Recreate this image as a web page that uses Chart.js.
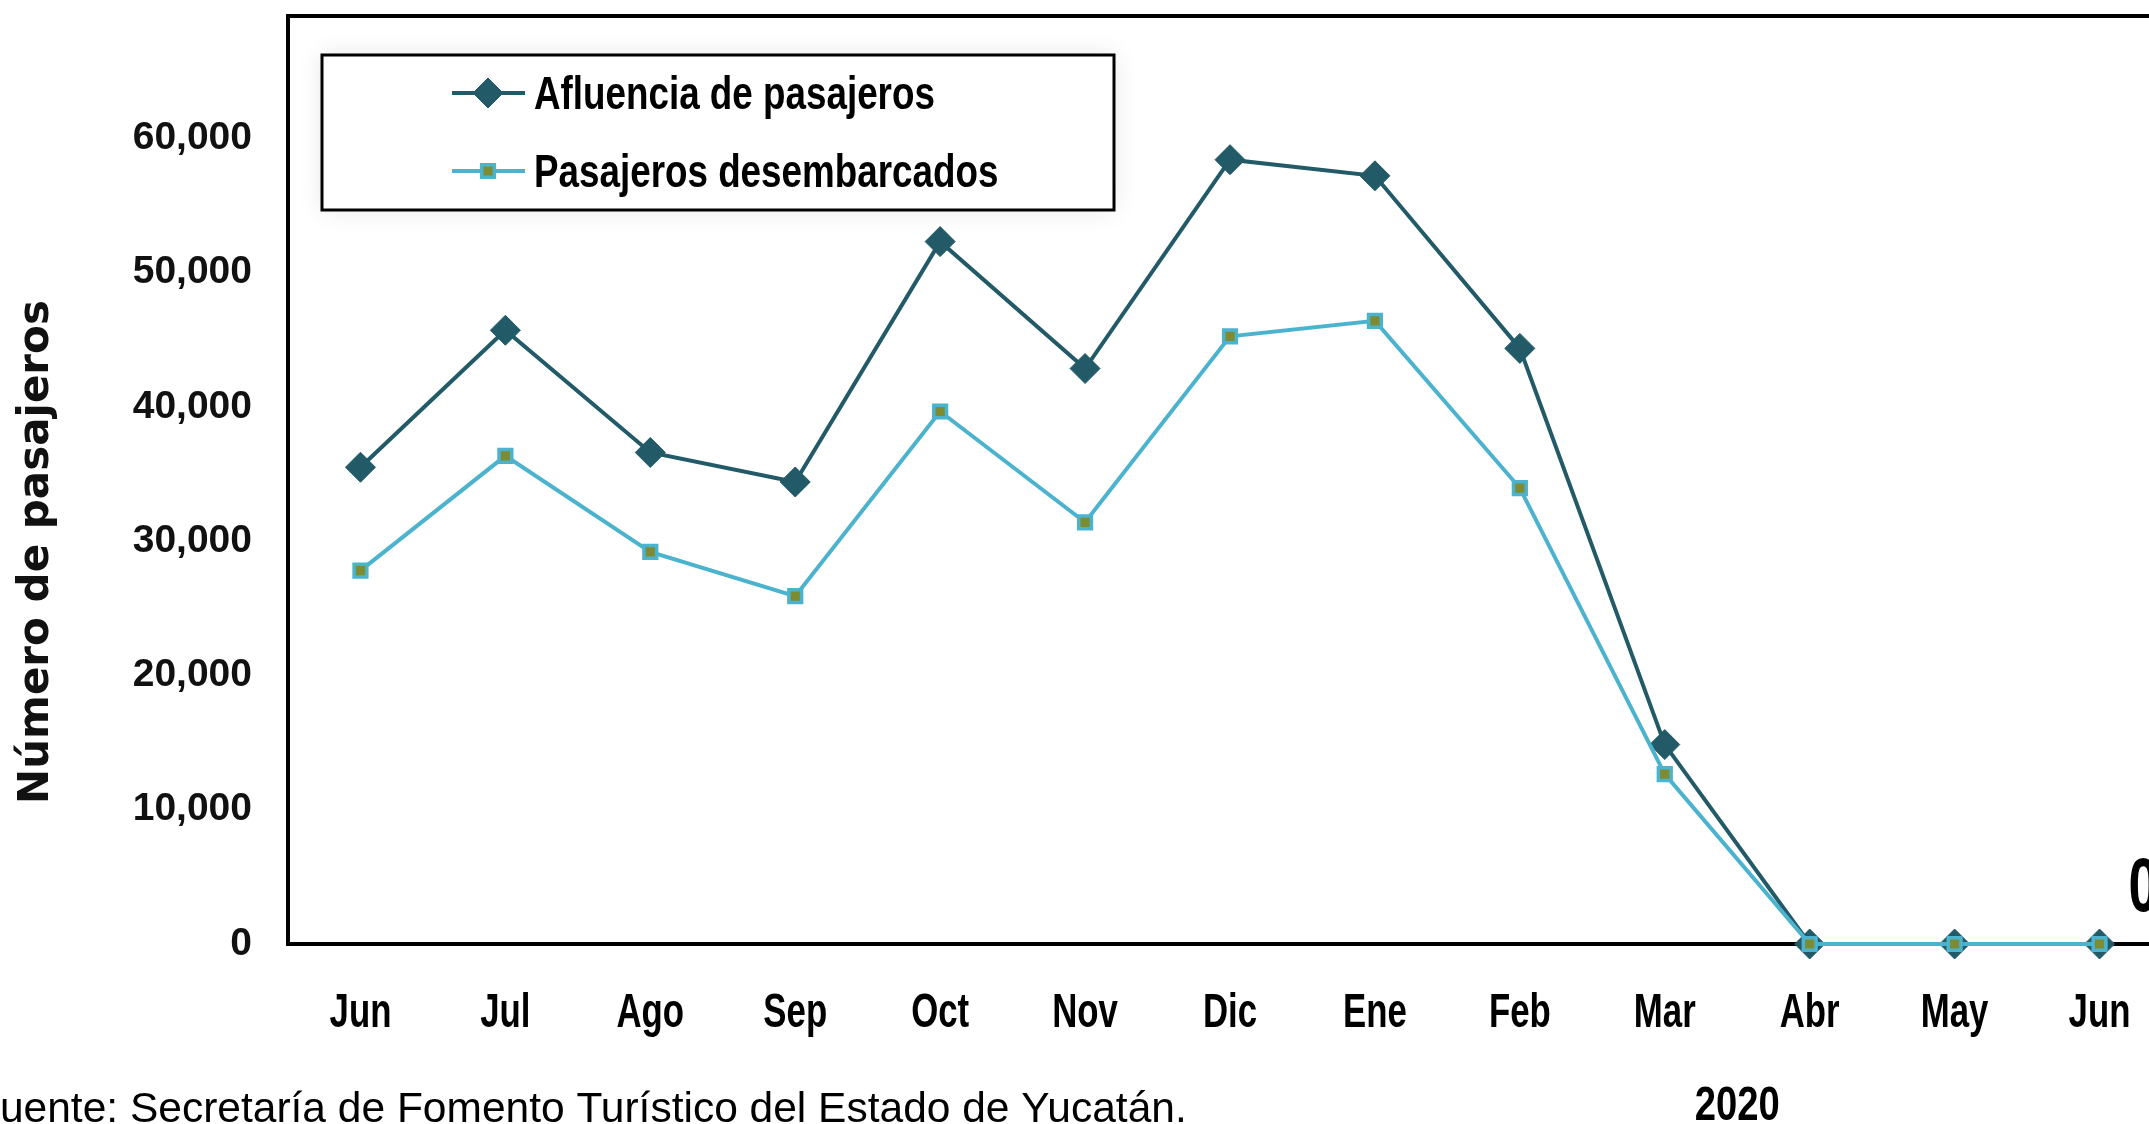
<!DOCTYPE html>
<html lang="es">
<head>
<meta charset="utf-8">
<title>Afluencia de pasajeros</title>
<script src="https://cdn.jsdelivr.net/npm/chart.js@4.4.1/dist/chart.umd.min.js"></script>
<style>
  html, body { margin: 0; padding: 0; background: #fff; overflow: hidden; }
  #wrap { width: 2149px; height: 1124px; overflow: hidden; position: relative; }
  canvas { display: block; }
</style>
</head>
<body>
<div id="wrap"><canvas id="chart" width="2200" height="1124"></canvas></div>
<script>
// months from Jun 2019 to Jun 2020
const months = ["Jun", "Jul", "Ago", "Sep", "Oct", "Nov", "Dic", "Ene", "Feb", "Mar", "Abr", "May", "Jun"];
const afluencia = [35500, 45700, 36600, 34400, 52300, 42850, 58400, 57200, 44350, 14850, 0, 0, 0];
const desembarcados = [27800, 36350, 29200, 25900, 39650, 31400, 45250, 46400, 33950, 12650, 0, 0, 0];
const yTicks = [0, 10000, 20000, 30000, 40000, 50000, 60000];
const yearLabel = "2020";
const yearFrom = 7; // Ene
const yearTo = 12; // Jun
const axisTitle = "Número de pasajeros";
const sourceText = "Fuente: Secretaría de Fomento Turístico del Estado de Yucatán.";
const lastValueLabel = "0";

const darkColor = "#225a68";
const lightColor = "#4cb3ce";
const oliveColor = "#7d8b33";
const boldFont = "'Liberation Sans', Arial, sans-serif";

// condensed text: the source font is a narrow face, so squeeze the installed one
function narrowText(ctx, text, x, y, size, squeeze, align) {
  ctx.save();
  ctx.translate(x, y);
  ctx.scale(squeeze, 1);
  ctx.font = "bold " + size + "px " + boldFont;
  ctx.textAlign = align || "center";
  ctx.textBaseline = "alphabetic";
  ctx.fillStyle = "#000";
  ctx.fillText(text, 0, 0);
  ctx.restore();
}

/**
 * Draws the frame, the boxed legend and the loose texts around the plot.
 */
const decorations = {
  id: "decorations",
  beforeDatasetsDraw(chart) {
    const { ctx, chartArea: a } = chart;
    ctx.save();
    ctx.strokeStyle = "#000";
    ctx.lineWidth = 4;
    ctx.strokeRect(a.left, a.top, a.right - a.left, a.bottom - a.top);
    ctx.restore();
  },
  afterDraw(chart) {
    const { ctx, chartArea: a, scales } = chart;
    const x = scales.x;
    ctx.save();

    // month labels under the axis
    x.ticks.forEach((t, i) => {
      narrowText(ctx, x.getLabelForValue(t.value), x.getPixelForTick(i), 1027, 49, 0.71);
    });

    // legend box
    const box = { left: 322, top: 55, width: 792, height: 155 };
    ctx.shadowColor = "rgba(0,0,0,0.10)";
    ctx.shadowBlur = 24;
    ctx.fillStyle = "#fff";
    ctx.fillRect(box.left, box.top, box.width, box.height);
    ctx.shadowBlur = 0;
    ctx.shadowColor = "transparent";
    ctx.strokeStyle = "#000";
    ctx.lineWidth = 3;
    ctx.strokeRect(box.left, box.top, box.width, box.height);

    const rows = [93, 171];
    chart.data.datasets.forEach((ds, i) => {
      const y = rows[i];
      ctx.strokeStyle = ds.borderColor;
      ctx.lineWidth = ds.borderWidth;
      ctx.beginPath();
      ctx.moveTo(452, y);
      ctx.lineTo(525, y);
      ctx.stroke();
      ctx.fillStyle = ds.pointBackgroundColor;
      ctx.strokeStyle = ds.pointBorderColor;
      ctx.lineWidth = ds.pointBorderWidth;
      Chart.helpers.drawPoint(ctx, {
        pointStyle: ds.pointStyle,
        radius: ds.pointRadius,
        borderWidth: ds.pointBorderWidth
      }, 488, y);
      narrowText(ctx, ds.label, 534, y + 16, 46, 0.8, "left");
    });

    // y axis title
    ctx.save();
    ctx.translate(37, 552);
    ctx.rotate(-Math.PI / 2);
    ctx.fillStyle = "#111";
    ctx.font = "bold 42px 'DejaVu Sans', sans-serif";
    ctx.textAlign = "center";
    ctx.textBaseline = "middle";
    ctx.fillText(axisTitle, 0, 0);
    ctx.restore();

    // year under the 2020 months
    const yearX = (x.getPixelForValue(yearFrom) + x.getPixelForValue(yearTo)) / 2;
    narrowText(ctx, yearLabel, yearX, 1120, 49, 0.78);

    // value label of the last month
    const lastX = x.getPixelForValue(months.length - 1);
    narrowText(ctx, lastValueLabel, lastX + 29, a.bottom - 33, 76, 0.7, "left");

    // source
    ctx.fillStyle = "#000";
    ctx.font = "42.5px 'Liberation Sans', Arial, sans-serif";
    ctx.textAlign = "left";
    ctx.textBaseline = "alphabetic";
    ctx.fillText(sourceText, -26, 1122);

    ctx.restore();
  }
};

new Chart(document.getElementById("chart"), {
  type: "line",
  data: {
    labels: months,
    datasets: [
      {
        label: "Afluencia de pasajeros",
        data: afluencia,
        borderColor: darkColor,
        backgroundColor: darkColor,
        borderWidth: 4,
        pointStyle: "rectRot",
        pointRadius: 15,
        pointBackgroundColor: darkColor,
        pointBorderColor: darkColor,
        pointBorderWidth: 1,
        tension: 0,
        clip: false,
        order: 1,
      },
      {
        label: "Pasajeros desembarcados",
        data: desembarcados,
        borderColor: lightColor,
        backgroundColor: lightColor,
        borderWidth: 4,
        pointStyle: "rect",
        pointRadius: 9,
        pointBackgroundColor: oliveColor,
        pointBorderColor: lightColor,
        pointBorderWidth: 3.5,
        tension: 0,
        clip: false,
        order: 0,
      },
    ],
  },
  options: {
    responsive: false,
    animation: false,
    devicePixelRatio: 1,
    layout: { padding: { top: 16, right: 28, left: 0, bottom: 0 } },
    plugins: {
      legend: { display: false },
      tooltip: { enabled: false },
    },
    scales: {
      x: {
        type: "category",
        offset: true,
        grid: { display: false, drawTicks: false },
        border: { display: false },
        ticks: { display: false, autoSkip: false, maxRotation: 0 },
        afterFit: (scale) => {
          scale.height = 180;
          scale.paddingLeft = 0;
          scale.paddingRight = 0;
        },
      },
      y: {
        min: 0,
        max: 69100,
        grid: { display: false, drawTicks: false },
        border: { display: false },
        afterBuildTicks: (scale) => {
          scale.ticks = yTicks.map((v) => ({ value: v }));
        },
        ticks: {
          color: "#111",
          padding: 36,
          font: { family: boldFont, size: 39, weight: "bold" },
          callback: (v) => v.toLocaleString("en-US"),
        },
        afterFit: (scale) => {
          scale.width = 288;
          scale.paddingTop = 0;
          scale.paddingBottom = 0;
        },
      },
    },
  },
  plugins: [decorations],
});
</script>
</body>
</html>
